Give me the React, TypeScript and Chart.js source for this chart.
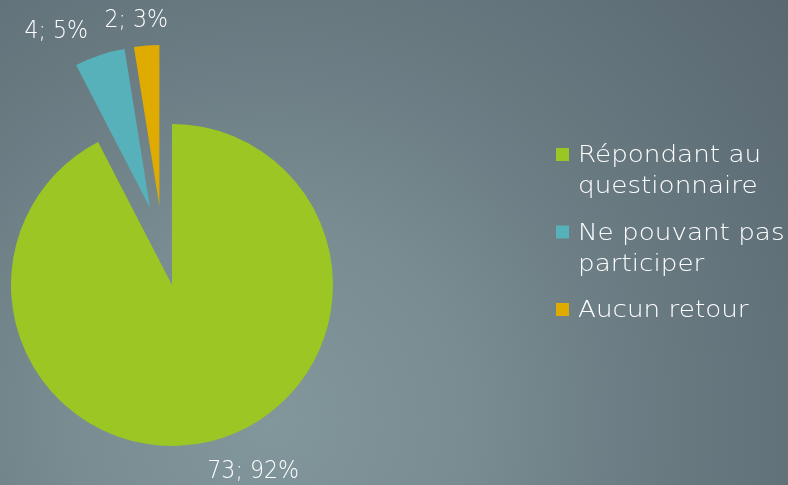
import { useEffect, useRef } from "react";
import { Chart, registerables } from "chart.js";

Chart.register(...registerables);

const categories = ["Répondant au questionnaire", "Ne pouvant pas participer", "Aucun retour"];
const legendLines = [["Répondant au", "questionnaire"], ["Ne pouvant pas", "participer"], ["Aucun retour"]];
const values = [73, 4, 2];
const colors = ["#9bc624", "#57b1ba", "#dfab00"];

// exploded slices (style)
const explodeDistance = [0, 80, 80];
const explodeAngleShift = [0, 2.3, -4.5]; // degrees
const labelGap = 30;
const labelNudge = [[36, 1], [-34, 5], [-8, 5]];

const total = values.reduce((a, b) => a + b, 0);

const explodePlugin = {
  id: "explode",
  beforeDatasetDraw(chart: any, args: any) {
    const ctx = chart.ctx;
    const meta = args.meta;
    meta.data.forEach((arc: any, i: number) => {
      const { startAngle, endAngle } = arc.getProps(["startAngle", "endAngle"], true);
      const mid = (startAngle + endAngle) / 2 + (explodeAngleShift[i] * Math.PI) / 180;
      const d = explodeDistance[i];
      ctx.save();
      ctx.translate(Math.cos(mid) * d, Math.sin(mid) * d);
      arc.draw(ctx);
      ctx.restore();
    });
    return false;
  },
  afterDatasetsDraw(chart: any) {
    const ctx = chart.ctx;
    const meta = chart.getDatasetMeta(0);
    ctx.save();
    ctx.fillStyle = "#ffffff";
    ctx.font = "200 24px 'DejaVu Sans'";
    ctx.textAlign = "center";
    ctx.textBaseline = "middle";
    meta.data.forEach((arc: any, i: number) => {
      const { x, y, startAngle, endAngle, outerRadius } = arc.getProps(
        ["x", "y", "startAngle", "endAngle", "outerRadius"],
        true
      );
      const mid = (startAngle + endAngle) / 2;
      const ex = mid + (explodeAngleShift[i] * Math.PI) / 180;
      const d = explodeDistance[i];
      const vx = x + Math.cos(ex) * d;
      const vy = y + Math.sin(ex) * d;
      const r = outerRadius + labelGap;
      const lx = vx + Math.cos(mid) * r + labelNudge[i][0];
      const ly = vy + Math.sin(mid) * r + labelNudge[i][1];
      const pct = Math.round((values[i] / total) * 100);
      const txt = `${values[i]}; ${pct}%`;
      ctx.save();
      ctx.translate(lx, ly);
      ctx.scale(0.92, 1);
      ctx.fillText(txt, 0, 0);
      ctx.restore();
    });
    ctx.restore();
  },
  afterDraw(chart: any) {
    const ctx = chart.ctx;
    ctx.save();
    ctx.font = "200 23px 'DejaVu Sans'";
    ctx.textAlign = "left";
    ctx.textBaseline = "alphabetic";
    const boxX = 556;
    const textX = 578;
    const lineHeight = 31;
    const itemGap = 46.5;
    const stretch = 1.14;
    let base = 162;
    legendLines.forEach((lines, i) => {
      ctx.fillStyle = colors[i];
      ctx.fillRect(boxX, base - 14, 13, 13);
      ctx.fillStyle = "#ffffff";
      lines.forEach((ln, j) => {
        ctx.save();
        ctx.translate(textX, base + j * lineHeight);
        ctx.scale(stretch, 1);
        ctx.fillText(ln, 0, 0);
        ctx.restore();
      });
      base += (lines.length - 1) * lineHeight + itemGap;
    });
    ctx.restore();
  },
};

export default function App() {
  const ref = useRef<HTMLCanvasElement>(null);
  useEffect(() => {
    if (!ref.current) return;
    const chart = new Chart(ref.current, {
      type: "pie",
      data: {
        labels: categories,
        datasets: [
          {
            data: values,
            backgroundColor: colors,
            borderWidth: 0,
            clip: false as any,
          },
        ],
      },
      options: {
        responsive: false,
        animation: false,
        radius: 161,
        layout: { padding: { left: 0, right: 444, top: 85, bottom: 0 } },
        plugins: {
          legend: { display: false },
          tooltip: { enabled: false },
          title: { display: false },
        },
        events: [],
      } as any,
      plugins: [explodePlugin],
    });
    return () => chart.destroy();
  }, []);
  return (
    <div
      style={{
        position: "fixed",
        left: 0,
        top: 0,
        width: 788,
        height: 485,
        overflow: "hidden",
        background:
          "radial-gradient(circle at 270px 420px, #82979b 0px, #788c91 200px, #67787f 420px, #58666f 700px)",
      }}
    >
      <canvas ref={ref} width={788} height={485} style={{ display: "block", width: 788, height: 485 }} />
    </div>
  );
}
